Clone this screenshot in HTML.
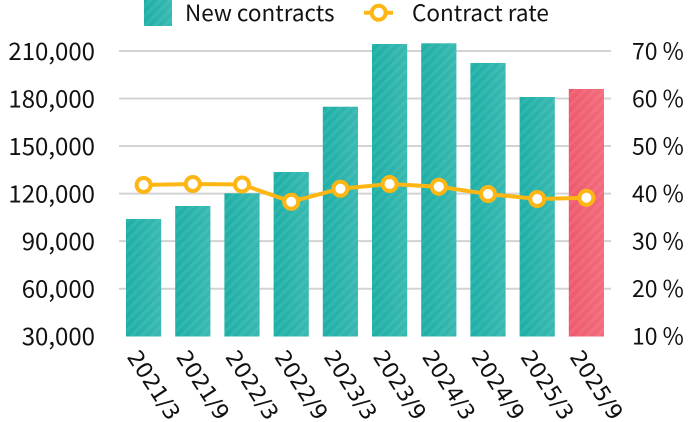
<!DOCTYPE html>
<html>
<head>
<meta charset="utf-8">
<style>
  html, body { margin:0; padding:0; background:#ffffff; }
  body { width:690px; height:422px; overflow:hidden; }
  svg { display:block; }
  .tick { font-family:"Noto Sans CJK JP","Liberation Sans",sans-serif; fill:#111; }
  .xl { font-family:"DejaVu Sans","Liberation Sans",sans-serif; font-size:22px; fill:#111; }
</style>
</head>
<body>
<svg width="690" height="422" viewBox="0 0 690 422" xmlns="http://www.w3.org/2000/svg">
  <defs>
    <linearGradient id="gT" x1="0" y1="0" x2="1" y2="0">
      <stop offset="0" stop-color="#1dafa6"/>
      <stop offset="1" stop-color="#38b9b1"/>
    </linearGradient>
    <linearGradient id="gR" x1="0" y1="0" x2="1" y2="0">
      <stop offset="0" stop-color="#ee5a6d"/>
      <stop offset="1" stop-color="#f26b7c"/>
    </linearGradient>
    <pattern id="stripes" width="7" height="7" patternUnits="userSpaceOnUse" patternTransform="rotate(45)">
      <rect x="0" y="0" width="3" height="7" fill="#ffffff" fill-opacity="0.07"/>
    </pattern>
  </defs>

  <!-- gridlines -->
  <g stroke="#d3d3d3" stroke-width="2">
    <line x1="119" y1="51" x2="611" y2="51"/>
    <line x1="119" y1="98.5" x2="611" y2="98.5"/>
    <line x1="119" y1="146" x2="611" y2="146"/>
    <line x1="119" y1="193.6" x2="611" y2="193.6"/>
    <line x1="119" y1="241.1" x2="611" y2="241.1"/>
    <line x1="119" y1="288.7" x2="611" y2="288.7"/>
  </g>

  <!-- bars -->
  <g>
    <rect x="126" y="219" width="35.2" height="117.5" fill="url(#gT)"/>
    <rect x="175.2" y="206" width="35.2" height="130.5" fill="url(#gT)"/>
    <rect x="224.4" y="193.3" width="35.2" height="143.2" fill="url(#gT)"/>
    <rect x="273.6" y="172" width="35.2" height="164.5" fill="url(#gT)"/>
    <rect x="322.8" y="106.7" width="35.2" height="229.8" fill="url(#gT)"/>
    <rect x="372" y="44" width="35.2" height="292.5" fill="url(#gT)"/>
    <rect x="421.2" y="43.3" width="35.2" height="293.2" fill="url(#gT)"/>
    <rect x="470.4" y="63" width="35.2" height="273.5" fill="url(#gT)"/>
    <rect x="519.6" y="97" width="35.2" height="239.5" fill="url(#gT)"/>
    <rect x="568.8" y="89" width="35.2" height="247.5" fill="url(#gR)"/>
  </g>
  <g fill="url(#stripes)">
    <rect x="126" y="219" width="35.2" height="117.5"/>
    <rect x="175.2" y="206" width="35.2" height="130.5"/>
    <rect x="224.4" y="193.3" width="35.2" height="143.2"/>
    <rect x="273.6" y="172" width="35.2" height="164.5"/>
    <rect x="322.8" y="106.7" width="35.2" height="229.8"/>
    <rect x="372" y="44" width="35.2" height="292.5"/>
    <rect x="421.2" y="43.3" width="35.2" height="293.2"/>
    <rect x="470.4" y="63" width="35.2" height="273.5"/>
    <rect x="519.6" y="97" width="35.2" height="239.5"/>
    <rect x="568.8" y="89" width="35.2" height="247.5"/>
  </g>

  <!-- line -->
  <polyline fill="none" stroke="#fdb614" stroke-width="4" stroke-linejoin="round"
    points="143.6,185 192.8,184 242,184.5 291.2,201.7 340.4,188.7 389.6,184 438.8,186.7 488,194 537.2,199 586.4,197.7"/>
  <g fill="#ffffff" stroke="#fdb614" stroke-width="4">
    <circle cx="143.6" cy="185" r="7"/>
    <circle cx="192.8" cy="184" r="7"/>
    <circle cx="242" cy="184.5" r="7"/>
    <circle cx="291.2" cy="201.7" r="7"/>
    <circle cx="340.4" cy="188.7" r="7"/>
    <circle cx="389.6" cy="184" r="7"/>
    <circle cx="438.8" cy="186.7" r="7"/>
    <circle cx="488" cy="194" r="7"/>
    <circle cx="537.2" cy="199" r="7"/>
    <circle cx="586.4" cy="197.7" r="7"/>
  </g>

  <!-- left axis labels -->
  <g class="tick" font-size="24" text-anchor="end">
    <text x="95" y="60">210,000</text>
    <text x="95" y="107.5">180,000</text>
    <text x="95" y="155">150,000</text>
    <text x="95" y="202.6">120,000</text>
    <text x="95" y="250.1">90,000</text>
    <text x="95" y="297.7">60,000</text>
    <text x="95" y="345.2">30,000</text>
  </g>

  <!-- right axis labels -->
  <g class="tick" font-size="23" text-anchor="start">
    <text x="632" y="59.3">70 %</text>
    <text x="632" y="106.8">60 %</text>
    <text x="632" y="154.3">50 %</text>
    <text x="632" y="201.9">40 %</text>
    <text x="632" y="249.4">30 %</text>
    <text x="632" y="297">20 %</text>
    <text x="632" y="344.5">10 %</text>
  </g>

  <!-- x labels -->
  <g class="xl">
    <text transform="translate(126.2,356.8) rotate(57)">2021/3</text>
    <text transform="translate(175.4,356.8) rotate(57)">2021/9</text>
    <text transform="translate(224.6,356.8) rotate(57)">2022/3</text>
    <text transform="translate(273.8,356.8) rotate(57)">2022/9</text>
    <text transform="translate(323,356.8) rotate(57)">2023/3</text>
    <text transform="translate(372.2,356.8) rotate(57)">2023/9</text>
    <text transform="translate(421.4,356.8) rotate(57)">2024/3</text>
    <text transform="translate(470.6,356.8) rotate(57)">2024/9</text>
    <text transform="translate(519.8,356.8) rotate(57)">2025/3</text>
    <text transform="translate(569,356.8) rotate(57)">2025/9</text>
  </g>

  <!-- legend -->
  <rect x="144" y="0" width="28" height="26" fill="url(#gT)"/>
  <rect x="144" y="0" width="28" height="26" fill="url(#stripes)"/>
  <text class="tick" x="185" y="21" font-size="22.5">New contracts</text>
  <line x1="364" y1="12.7" x2="393" y2="12.7" stroke="#fdb614" stroke-width="4"/>
  <circle cx="378.7" cy="12.7" r="7" fill="#ffffff" stroke="#fdb614" stroke-width="4"/>
  <text class="tick" x="412" y="21" font-size="22.5">Contract rate</text>
</svg>
</body>
</html>
